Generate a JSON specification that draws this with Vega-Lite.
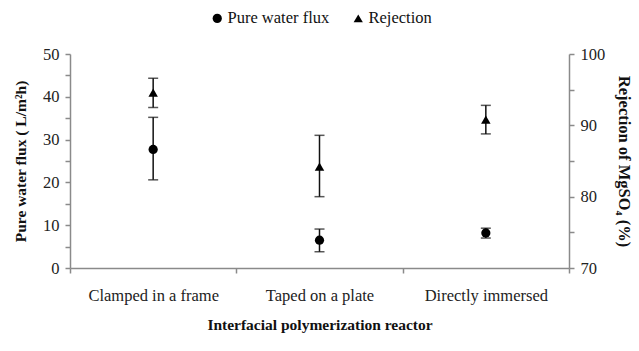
{
  "$schema": "https://vega.github.io/schema/vega-lite/v6.json",
  "width": 499,
  "height": 214,
  "autosize": {"type": "none"},
  "padding": {"left": 70, "top": 54, "right": 70, "bottom": 83},
  "background": "white",
  "config": {
    "view": {"stroke": null},
    "font": "Liberation Serif, Times New Roman, serif",
    "axis": {
      "grid": false,
      "domainColor": "#8a8a8a",
      "domainWidth": 1.5,
      "tickColor": "#8a8a8a",
      "tickWidth": 1.5,
      "tickSize": 5,
      "labelFont": "Liberation Serif, Times New Roman, serif",
      "labelFontSize": 16.5,
      "labelColor": "#222",
      "titleFont": "Liberation Serif, Times New Roman, serif",
      "titleFontSize": 15.5,
      "titleFontWeight": "bold",
      "titleColor": "#111"
    },
    "legend": {"labelFont": "Liberation Serif, Times New Roman, serif", "labelFontSize": 16.5, "labelColor": "#111"}
  },
  "data": {
    "values": [
      {"reactor": "Clamped in a frame", "series": "Pure water flux", "value": 27.7, "lo": 20.6, "hi": 35.2},
      {"reactor": "Taped on a plate", "series": "Pure water flux", "value": 6.5, "lo": 3.8, "hi": 9.1},
      {"reactor": "Directly immersed", "series": "Pure water flux", "value": 8.2, "lo": 7.0, "hi": 9.3},
      {"reactor": "Clamped in a frame", "series": "Rejection", "value": 94.6, "lo": 92.5, "hi": 96.6},
      {"reactor": "Taped on a plate", "series": "Rejection", "value": 84.2, "lo": 80.0, "hi": 88.6},
      {"reactor": "Directly immersed", "series": "Rejection", "value": 90.8, "lo": 88.8, "hi": 92.8}
    ]
  },
  "encoding": {
    "x": {
      "field": "reactor",
      "type": "nominal",
      "sort": ["Clamped in a frame", "Taped on a plate", "Directly immersed"],
      "scale": {"paddingInner": 0, "paddingOuter": 0},
      "axis": {
        "title": "Interfacial polymerization reactor",
        "labelAngle": 0,
        "tickBand": "extent",
        "labelPadding": 14,
        "titlePadding": 14
      }
    }
  },
  "layer": [
    {
      "transform": [{"filter": "datum.series == 'Pure water flux'"}],
      "encoding": {
        "y": {
          "field": "value",
          "type": "quantitative",
          "scale": {"domain": [0, 50], "nice": false},
          "axis": {
            "orient": "left",
            "title": "Pure water flux ( L/m²h)",
            "values": [0, 5, 10, 15, 20, 25, 30, 35, 40, 45, 50],
            "labelExpr": "datum.value % 10 == 0 ? datum.label : ''",
            "labelPadding": 6,
            "titlePadding": 14
          }
        }
      },
      "layer": [
        {
          "mark": {"type": "rule", "color": "#111", "strokeWidth": 1.5},
          "encoding": {"y": {"field": "lo", "type": "quantitative"}, "y2": {"field": "hi"}}
        },
        {
          "mark": {"type": "tick", "color": "#111", "thickness": 1.5, "size": 10},
          "encoding": {"y": {"field": "lo", "type": "quantitative"}}
        },
        {
          "mark": {"type": "tick", "color": "#111", "thickness": 1.5, "size": 10},
          "encoding": {"y": {"field": "hi", "type": "quantitative"}}
        },
        {
          "mark": {"type": "point", "filled": true, "color": "#000", "opacity": 1, "size": 85},
          "encoding": {
            "shape": {
              "field": "series",
              "type": "nominal",
              "scale": {"domain": ["Pure water flux", "Rejection"], "range": ["circle", "triangle-up"]},
              "legend": {
                "title": null,
                "orient": "none",
                "direction": "horizontal",
                "legendX": 139,
                "legendY": -44,
                "symbolFillColor": "#000",
                "symbolStrokeColor": "#000",
                "symbolSize": 85,
                "columnPadding": 20,
                "labelOffset": 2
              }
            }
          }
        }
      ]
    },
    {
      "transform": [{"filter": "datum.series == 'Rejection'"}],
      "encoding": {
        "y": {
          "field": "value",
          "type": "quantitative",
          "scale": {"domain": [70, 100], "nice": false},
          "axis": {
            "orient": "right",
            "title": "Rejection of MgSO₄ (%)",
            "values": [70, 75, 80, 85, 90, 95, 100],
            "labelExpr": "datum.value % 10 == 0 ? datum.label : ''",
            "labelPadding": 6,
            "titleFontSize": 16.5,
            "titlePadding": 11
          }
        }
      },
      "layer": [
        {
          "mark": {"type": "rule", "color": "#111", "strokeWidth": 1.5},
          "encoding": {"y": {"field": "lo", "type": "quantitative"}, "y2": {"field": "hi"}}
        },
        {
          "mark": {"type": "tick", "color": "#111", "thickness": 1.5, "size": 10},
          "encoding": {"y": {"field": "lo", "type": "quantitative"}}
        },
        {
          "mark": {"type": "tick", "color": "#111", "thickness": 1.5, "size": 10},
          "encoding": {"y": {"field": "hi", "type": "quantitative"}}
        },
        {
          "mark": {"type": "point", "filled": true, "color": "#000", "opacity": 1, "size": 90},
          "encoding": {
            "shape": {
              "field": "series",
              "type": "nominal",
              "scale": {"domain": ["Pure water flux", "Rejection"], "range": ["circle", "triangle-up"]}
            }
          }
        }
      ]
    }
  ],
  "resolve": {"scale": {"y": "independent"}}
}
